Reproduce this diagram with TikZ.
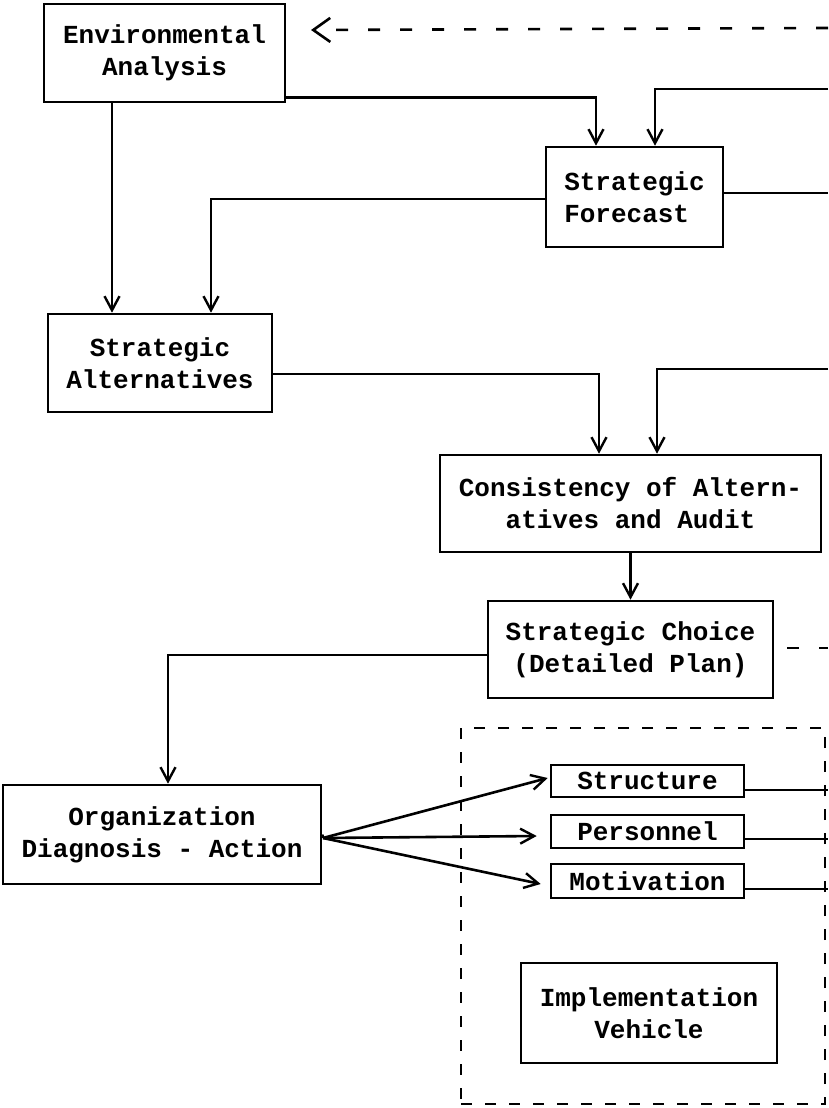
\documentclass[tikz,border=0pt]{standalone}
\usepackage{fontspec}
\newfontfamily\twf{Liberation Mono}
\usetikzlibrary{arrows.meta}
\begin{document}
\begin{tikzpicture}[x=1pt,y=-1pt,
  box/.style={draw, line width=2.6pt, inner sep=0pt, align=center,
    font=\twf\bfseries\fontsize{26}{32}\selectfont},
  smallbox/.style={box, minimum width=193pt},
  conn/.style={line width=2.6pt},
  arr/.style={conn, -{Straight Barb[length=14pt,width=15pt,line width=2.4pt]}},
  dashline/.style={conn, dash pattern=on 12pt off 20pt},
  dasharr/.style={dashline, -{Straight Barb[length=17pt,width=24pt,line width=2.6pt]}},
  framebox/.style={draw, line width=2.8pt, dash pattern=on 11pt off 13pt, inner sep=0pt}
]
\useasboundingbox (0,0) rectangle (828,1108);

% nodes
\node[box, minimum width=241pt, minimum height=98pt] (env) at (164.5,53) {Environmental\\Analysis};
\node[box, minimum width=177pt, minimum height=100pt, align=left] (fore) at (634.5,197) {Strategic\\Forecast};
\node[box, minimum width=224pt, minimum height=98pt] (alt) at (160,363) {Strategic\\Alternatives};
\node[box, minimum width=381pt, minimum height=97pt] (cons) at (630.5,503.5) {Consistency of Altern-\\atives and Audit};
\node[box, minimum width=285pt, minimum height=97pt] (choice) at (630.5,649.5) {Strategic Choice\\(Detailed Plan)};
\node[framebox, minimum width=364pt, minimum height=376pt] (frame) at (643,916) {};
\node[box, minimum width=318pt, minimum height=99pt] (org) at (162,834.5) {Organization\\Diagnosis - Action};
\node[smallbox, minimum height=32pt] (struct) at (647.5,781) {Structure};
\node[smallbox, minimum height=33pt] (pers) at (647.5,831.5) {Personnel};
\node[smallbox, minimum height=34pt] (motiv) at (647.5,881) {Motivation};
\node[box, minimum width=256pt, minimum height=100pt] (impl) at (649,1013) {Implementation\\Vehicle};

% free ends at the right edge
\coordinate (R0) at (828,28);
\coordinate (D0) at (311,30);
\coordinate (R1) at (828,89);
\coordinate (R2) at (828,193);
\coordinate (R3) at (828,369);
\coordinate (R4) at (828,648);
\coordinate (R5) at (828,790);
\coordinate (R6) at (828,839);
\coordinate (R7) at (828,889);
\coordinate (O) at (323,838);

% connectors
\draw[dasharr] (R0) -- (D0);
\draw[arr] ([yshift=6pt]env.south east) -| ([xshift=-38.5pt]fore.north);
\draw[arr] (R1) -| ([xshift=20.5pt]fore.north);
\draw[conn] ([yshift=4pt]fore.east) -- (R2);
\draw[arr] ([yshift=-2pt]fore.west) -| ([xshift=51pt]alt.north);
\draw[arr] ([xshift=-52.5pt]env.south) -- ([xshift=-48pt]alt.north);
\draw[arr] ([yshift=-11pt]alt.east) -| ([xshift=-31.5pt]cons.north);
\draw[arr] (R3) -| ([xshift=26.5pt]cons.north);
\draw[arr] (cons.south) -- (choice.north);
\draw[arr] ([yshift=-5.5pt]choice.west) -| ([xshift=6pt]org.north);
\draw[dashline] ([xshift=13pt,yshift=1.5pt]choice.east) -- (R4);
\draw[conn] (org.east) -- (O);
\draw[arr] (O) -- ([xshift=-2pt,yshift=3pt]struct.west);
\draw[arr] (O) -- ([xshift=-13pt,yshift=-4.5pt]pers.west);
\draw[arr] (O) -- ([xshift=-9pt,yshift=-3pt]motiv.west);
\draw[conn] ([yshift=-9pt]struct.east) -- (R5);
\draw[conn] ([yshift=-7.5pt]pers.east) -- (R6);
\draw[conn] ([yshift=-8pt]motiv.east) -- (R7);
\end{tikzpicture}
\end{document}
